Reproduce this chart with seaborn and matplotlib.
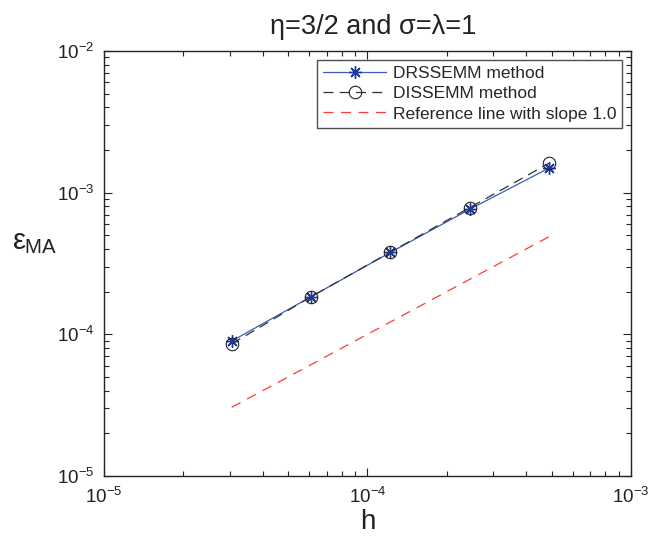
import numpy as np
import pandas as pd
import matplotlib
matplotlib.use('Agg')
import matplotlib.pyplot as plt
import seaborn as sns

# 网格步长 h 与误差数据
h_values = [3.0518e-5, 6.1035e-5, 1.2207e-4, 2.4414e-4, 4.8828e-4]
drssemm_err = [8.95e-5, 1.84e-4, 3.78e-4, 7.62e-4, 1.49e-3]
dissemm_err = [8.55e-5, 1.84e-4, 3.80e-4, 7.83e-4, 1.61e-3]
ref_line = [3.0518e-5, 6.1035e-5, 1.2207e-4, 2.4414e-4, 4.8828e-4]

labels = ['DRSSEMM method', 'DISSEMM method', 'Reference line with slope 1.0']

sns.set_style('ticks')
plt.rcParams['font.family'] = ['Liberation Sans', 'DejaVu Sans']
plt.rcParams['mathtext.fontset'] = 'custom'
plt.rcParams['mathtext.rm'] = 'Liberation Sans'
plt.rcParams['mathtext.it'] = 'Liberation Sans'
plt.rcParams['xtick.direction'] = 'in'
plt.rcParams['ytick.direction'] = 'in'

df = pd.DataFrame({'h': h_values, 'drs': drssemm_err,
                   'dis': dissemm_err, 'ref': ref_line})

fig = plt.figure(figsize=(6.64, 5.36), dpi=100)
ax = fig.add_axes([0.1566, 0.112, 0.7937, 0.793])

sns.lineplot(data=df, x='h', y='drs', ax=ax, color='#3a5dc0', lw=0.9,
             marker=(8, 2, 0), markersize=9, markeredgewidth=1.0,
             markeredgecolor='#1f3a99', label=labels[0])
sns.lineplot(data=df, x='h', y='dis', ax=ax, color='#333333', lw=0.9,
             dashes=(8, 5), marker='o', markersize=9, markerfacecolor='none',
             markeredgecolor='#222222', markeredgewidth=0.8, label=labels[1])
sns.lineplot(data=df, x='h', y='ref', ax=ax, color='#ff3a3a', lw=0.9,
             dashes=(8, 6), label=labels[2])

ax.set_xscale('log')
ax.set_yscale('log')
ax.set_xlim(1e-5, 1e-3)
ax.set_ylim(1e-5, 1e-2)

for side in ['top', 'right', 'left', 'bottom']:
    ax.spines[side].set_visible(True)
    ax.spines[side].set_linewidth(1.0)
    ax.spines[side].set_color('#222222')
ax.tick_params(which='both', top=True, right=True, colors='#222222',
               labelsize=13.5, labelcolor='#222222')
ax.tick_params(which='major', length=6, width=0.8, pad=7)
ax.tick_params(axis='x', which='major', pad=8)
ax.tick_params(which='minor', length=3.5, width=0.8)

ax.set_title('η=3/2 and σ=λ=1', fontsize=19.5, pad=12, color='#222222',
             x=0.51)
ax.set_xlabel('h', fontsize=20, color='#222222', va='center')
ax.xaxis.set_label_coords(0.5, -0.108)
ax.set_ylabel(r'$\varepsilon_{\mathrm{MA}}$', fontsize=21, rotation=0,
              color='#222222', va='center', ha='center')
ax.yaxis.set_label_coords(-0.132, 0.55)

leg = ax.legend(loc='upper right', fontsize=12.5, handlelength=3.6,
                frameon=True, fancybox=False, borderpad=0.35,
                labelspacing=0.3, borderaxespad=0.5, handletextpad=0.4)
leg.get_frame().set_edgecolor('#222222')
leg.get_frame().set_linewidth(1.0)

fig.savefig('out.png', dpi=100)
plt.close()
